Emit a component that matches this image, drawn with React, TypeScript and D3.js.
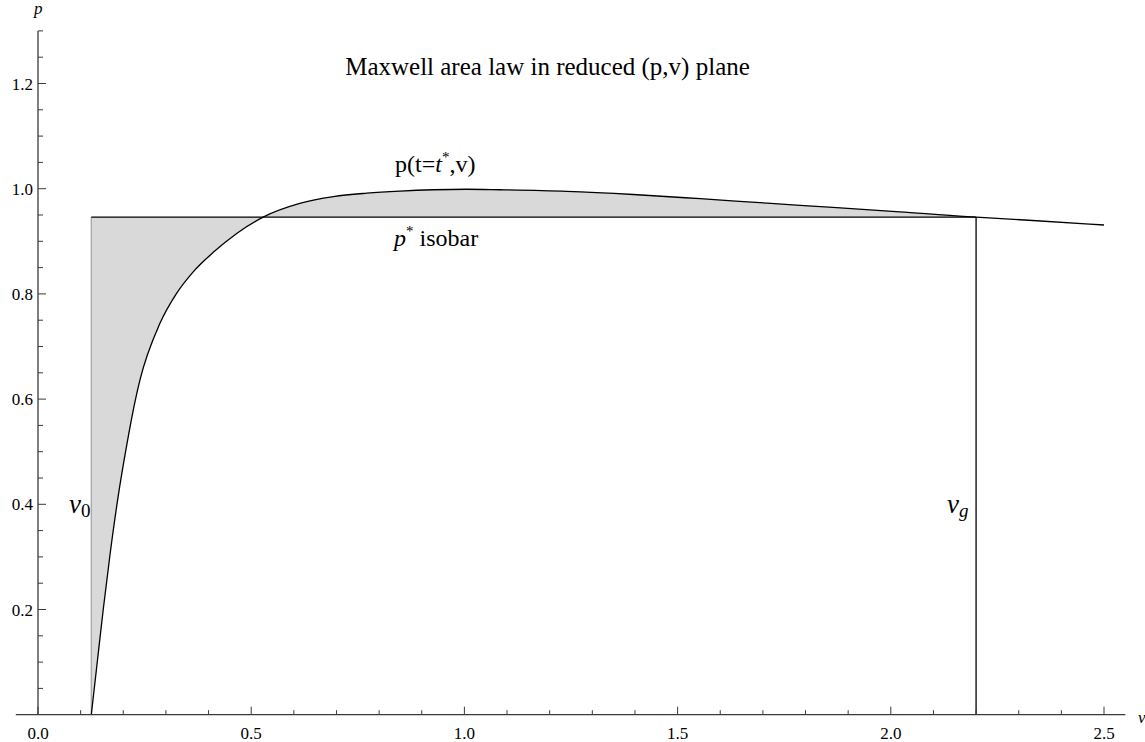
import React from "react";
import * as d3 from "d3";

// Curve p(t=t*, v)
const vValues = [0.125, 0.138, 0.153, 0.169, 0.188, 0.208, 0.228, 0.239, 0.286, 0.325, 0.364, 0.411, 0.466, 0.528, 0.614, 0.693, 0.771, 0.849, 0.927, 1.005, 1.083, 1.24, 1.396, 1.553, 1.71, 1.864, 2.021, 2.179, 2.2, 2.333, 2.5];
const pValues = [0, 0.093, 0.2, 0.305, 0.415, 0.512, 0.597, 0.636, 0.744, 0.801, 0.842, 0.879, 0.915, 0.946, 0.972, 0.985, 0.9915, 0.9955, 0.998, 0.999, 0.998, 0.995, 0.989, 0.981, 0.9725, 0.9645, 0.956, 0.947, 0.946, 0.9395, 0.931];

const pStar = 0.946;
const v0 = 0.125;
const vg = 2.2;

const xMajorTicks = [0, 0.5, 1.0, 1.5, 2.0, 2.5];
const xMinorTicks = d3.range(1, 26).map((i) => i / 10).filter((t) => Math.abs(t * 2 - Math.round(t * 2)) > 1e-6);
const yMajorTicks = [0.2, 0.4, 0.6, 0.8, 1.0, 1.2];
const yMinorTicks = d3.range(1, 27).map((i) => i * 0.05).filter((t) => Math.abs(t * 5 - Math.round(t * 5)) > 1e-6);

const W = 1145;
const H = 742;

export default function App() {
  const x = d3.scaleLinear().domain([0, 2.5]).range([38, 1104]);
  const y = d3.scaleLinear().domain([0, 1.3]).range([714.7, 30.9]);

  const pts = vValues.map((v, i) => [v, pValues[i]] as [number, number]);
  const line = d3
    .line<[number, number]>()
    .x((d) => x(d[0]))
    .y((d) => y(d[1]))
    .curve(d3.curveMonotoneX);
  const area = d3
    .area<[number, number]>()
    .x((d) => x(d[0]))
    .y0(() => y(pStar))
    .y1((d) => y(d[1]))
    .curve(d3.curveMonotoneX);
  const areaPts = pts.filter((d) => d[0] <= vg + 1e-9);

  const axisColor = "#3a3a3a";
  const font = "Liberation Serif, DejaVu Serif, serif";
  const y0 = y(0);
  const x0 = x(0);

  return (
    <svg width={W} height={H} style={{ position: "absolute", left: 0, top: 0, fontFamily: font }}>
      <rect x={0} y={0} width={W} height={H} fill="#fff" />
      {/* shaded Maxwell areas */}
      <path d={area(areaPts) || ""} fill="#d9d9d9" stroke="none" />
      <line x1={x(v0)} x2={x(v0)} y1={y(0)} y2={y(pStar)} stroke="#a6a6a6" strokeWidth={1.3} />
      {/* isobar */}
      <line x1={x(v0)} x2={x(vg)} y1={y(pStar)} y2={y(pStar)} stroke="#000" strokeWidth={1.3} />
      <line x1={x(vg)} x2={x(vg)} y1={y(0)} y2={y(pStar)} stroke="#000" strokeWidth={1.3} />
      {/* curve */}
      <path d={line(pts) || ""} fill="none" stroke="#000" strokeWidth={1.3} />

      {/* axes */}
      <line x1={x(-0.052)} x2={x(2.55)} y1={y0} y2={y0} stroke={axisColor} strokeWidth={1.3} />
      <line x1={x0} x2={x0} y1={y0} y2={y(1.3)} stroke={axisColor} strokeWidth={1.3} />
      {xMajorTicks.map((t) => (
        <g key={"xM" + t}>
          <line x1={x(t)} x2={x(t)} y1={y0} y2={y0 - 8} stroke={axisColor} strokeWidth={1} />
          <text x={x(t)} y={739} textAnchor="middle" fontSize={17}>
            {t.toFixed(1)}
          </text>
        </g>
      ))}
      {xMinorTicks.map((t) => (
        <line key={"xm" + t} x1={x(t)} x2={x(t)} y1={y0} y2={y0 - 4.5} stroke={axisColor} strokeWidth={1} />
      ))}
      {yMajorTicks.map((t) => (
        <g key={"yM" + t}>
          <line x1={x0} x2={x0 + 8} y1={y(t)} y2={y(t)} stroke={axisColor} strokeWidth={1} />
          <text x={33} y={y(t) + 6} textAnchor="end" fontSize={17}>
            {t.toFixed(1)}
          </text>
        </g>
      ))}
      {yMinorTicks.map((t) => (
        <line key={"ym" + t} x1={x0} x2={x0 + 5} y1={y(t)} y2={y(t)} stroke={axisColor} strokeWidth={1} />
      ))}
      <text x={34} y={14} fontSize={17} fontStyle="italic">p</text>
      <text x={1138} y={723} fontSize={17} fontStyle="italic">v</text>

      {/* labels */}
      <text x={547.5} y={75} textAnchor="middle" fontSize={25}>
        Maxwell area law in reduced (p,v) plane
      </text>
      <text x={395} y={172} fontSize={24}>
        p(t=<tspan fontStyle="italic">t</tspan>
        <tspan fontSize={15} dy={-10}>*</tspan>
        <tspan dy={10}>,v)</tspan>
      </text>
      <text x={394} y={246} fontSize={24}>
        <tspan fontStyle="italic">p</tspan>
        <tspan fontSize={15} dy={-10}>*</tspan>
        <tspan dy={10}> isobar</tspan>
      </text>
      <text x={69} y={512.7} fontSize={27} fontStyle="italic">
        v<tspan fontStyle="normal" fontSize={19} dy={4}>0</tspan>
      </text>
      <text x={947} y={512.7} fontSize={27} fontStyle="italic">
        v<tspan fontSize={19} dy={4}>g</tspan>
      </text>
    </svg>
  );
}
